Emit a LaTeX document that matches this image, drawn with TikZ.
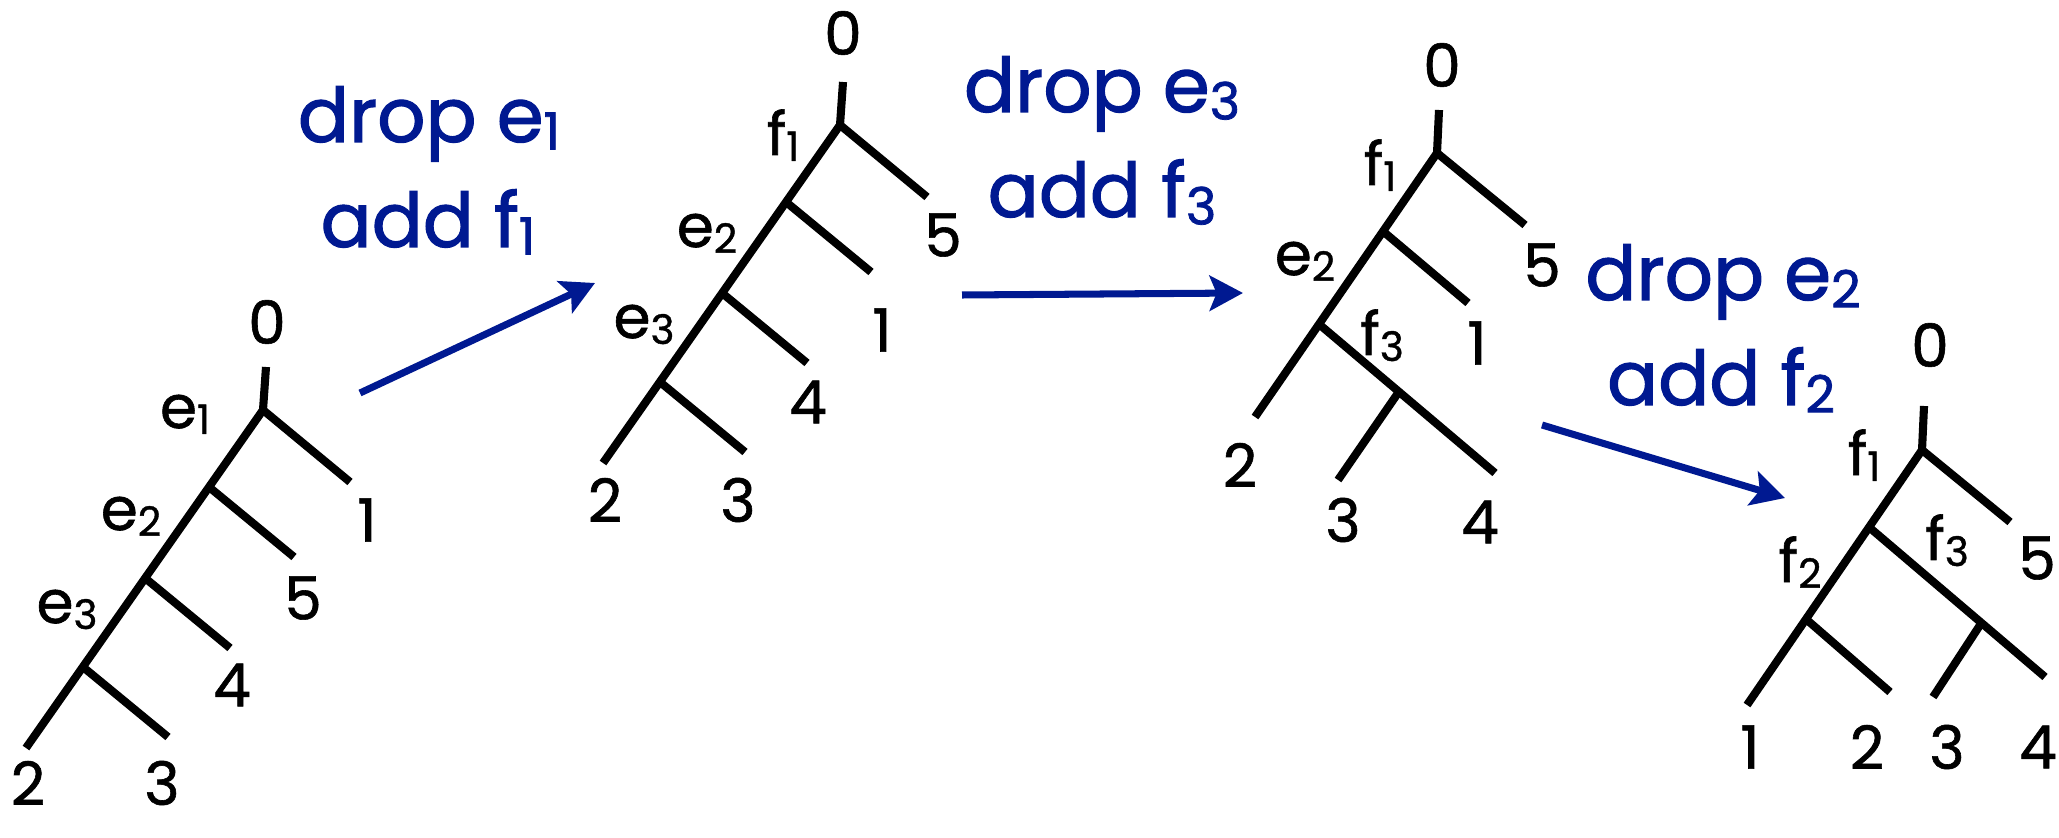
\documentclass[tikz,border=0pt]{standalone}
\usepackage{fontspec}
\setmainfont{Poppins}[FakeBold=1]
\newfontfamily\movefont{Poppins}[FakeBold=1.5]
\usepackage{graphicx}
\usetikzlibrary{arrows.meta}
\definecolor{movecol}{RGB}{0,25,145}
\newcommand{\sbx}[1]{\raisebox{-.1em}{\scalebox{.68}{#1}}}
\tikzset{
  br/.style={line width=2.3pt},
  leaf/.style={inner sep=0pt,font=\fontsize{17}{20}\selectfont},
  elab/.style={inner sep=0pt,anchor=base,font=\fontsize{17}{20}\selectfont},
  mv/.style={inner sep=0pt,anchor=base,text=movecol,font=\movefont\fontsize{21.5}{24}\selectfont},
  mvarrow/.style={draw=movecol,line width=2pt,-{Stealth[length=9.5pt,width=10pt,inset=2pt]}},
}

\begin{document}
\begin{tikzpicture}
\useasboundingbox (0,0) rectangle (20.59,8.37);

%% tree 1
\coordinate (s1) at (2.66,4.70);
\coordinate (r1) at (2.63,4.27);
\coordinate (a1) at (2.09,3.50);
\coordinate (b1) at (1.45,2.59);
\coordinate (c1) at (0.83,1.70);
\coordinate (l1-1) at (3.50,3.55);
\coordinate (l1-5) at (2.94,2.80);
\coordinate (l1-4) at (2.30,1.89);
\coordinate (l1-3) at (1.68,1.00);
\coordinate (l1-2) at (0.26,0.89);

\draw[br] (s1) -- (r1);
\draw[br] (r1) -- (l1-2);
\draw[br] (r1) -- (l1-1);
\draw[br] (a1) -- (l1-5);
\draw[br] (b1) -- (l1-4);
\draw[br] (c1) -- (l1-3);

\node[leaf] (n1-0) at (2.67,5.15) {0};
\node[leaf] (n1-1) at (3.67,3.17) {1};
\node[leaf] (n1-5) at (3.03,2.39) {5};
\node[leaf] (n1-4) at (2.32,1.52) {4};
\node[leaf] (n1-2) at (0.28,0.54) {2};
\node[leaf] (n1-3) at (1.62,0.54) {3};
\node[elab] (e1-1) at (1.85,4.09) {e\sbx{1}};
\node[elab] (e1-2) at (1.31,3.07) {e\sbx{2}};
\node[elab] (e1-3) at (0.67,2.14) {e\sbx{3}};

%% tree 2
\coordinate (s2) at (8.43,7.55);
\coordinate (r2) at (8.40,7.12);
\coordinate (a2) at (7.86,6.35);
\coordinate (b2) at (7.22,5.44);
\coordinate (c2) at (6.60,4.55);
\coordinate (l2-5) at (9.27,6.40);
\coordinate (l2-1) at (8.71,5.65);
\coordinate (l2-4) at (8.07,4.74);
\coordinate (l2-3) at (7.45,3.85);
\coordinate (l2-2) at (6.03,3.74);

\draw[br] (s2) -- (r2);
\draw[br] (r2) -- (l2-2);
\draw[br] (r2) -- (l2-5);
\draw[br] (a2) -- (l2-1);
\draw[br] (b2) -- (l2-4);
\draw[br] (c2) -- (l2-3);

\node[leaf] (n2-0) at (8.43,8.04) {0};
\node[leaf] (n2-5) at (9.43,6.02) {5};
\node[leaf] (n2-1) at (8.82,5.07) {1};
\node[leaf] (n2-4) at (8.08,4.35) {4};
\node[leaf] (n2-2) at (6.05,3.37) {2};
\node[leaf] (n2-3) at (7.38,3.37) {3};
\node[elab] (f2-1) at (7.83,6.82) {f\sbx{1}};
\node[elab] (e2-2) at (7.07,5.90) {e\sbx{2}};
\node[elab] (e2-3) at (6.44,4.99) {e\sbx{3}};

%% tree 3
\coordinate (s3) at (14.39,7.27);
\coordinate (r3) at (14.37,6.84);
\coordinate (a3) at (13.85,6.04);
\coordinate (b3) at (13.20,5.12);
\coordinate (c3) at (13.98,4.44);
\coordinate (l3-5) at (15.25,6.12);
\coordinate (l3-1) at (14.68,5.34);
\coordinate (l3-4) at (14.95,3.64);
\coordinate (l3-3) at (13.38,3.57);
\coordinate (l3-2) at (12.55,4.20);

\draw[br] (s3) -- (r3);
\draw[br] (r3) -- (l3-2);
\draw[br] (r3) -- (l3-5);
\draw[br] (a3) -- (l3-1);
\draw[br] (b3) -- (l3-4);
\draw[br] (c3) -- (l3-3);

\node[leaf] (n3-0) at (14.42,7.72) {0};
\node[leaf] (n3-5) at (15.42,5.72) {5};
\node[leaf] (n3-1) at (14.77,4.94) {1};
\node[leaf] (n3-2) at (12.40,3.72) {2};
\node[leaf] (n3-3) at (13.43,3.17) {3};
\node[leaf] (n3-4) at (14.80,3.15) {4};
\node[elab] (f3-1) at (13.80,6.52) {f\sbx{1}};
\node[elab] (e3-2) at (13.05,5.62) {e\sbx{2}};
\node[elab] (f3-3) at (13.82,4.82) {f\sbx{3}};

%% tree 4
\coordinate (s4) at (19.24,4.31);
\coordinate (r4) at (19.22,3.87);
\coordinate (a4) at (18.70,3.09);
\coordinate (b4) at (18.07,2.17);
\coordinate (c4) at (19.82,2.15);
\coordinate (l4-5) at (20.10,3.15);
\coordinate (l4-4) at (20.45,1.60);
\coordinate (l4-3) at (19.33,1.40);
\coordinate (l4-2) at (18.90,1.45);
\coordinate (l4-1) at (17.47,1.32);

\draw[br] (s4) -- (r4);
\draw[br] (r4) -- (l4-1);
\draw[br] (r4) -- (l4-5);
\draw[br] (a4) -- (l4-4);
\draw[br] (b4) -- (l4-2);
\draw[br] (c4) -- (l4-3);

\node[leaf] (n4-0) at (19.30,4.92) {0};
\node[leaf] (n4-5) at (20.37,2.79) {5};
\node[leaf] (n4-1) at (17.50,0.90) {1};
\node[leaf] (n4-2) at (18.67,0.90) {2};
\node[leaf] (n4-3) at (19.47,0.90) {3};
\node[leaf] (n4-4) at (20.38,0.90) {4};
\node[elab] (f4-1) at (18.64,3.62) {f\sbx{1}};
\node[elab] (f4-2) at (18.00,2.55) {f\sbx{2}};
\node[elab] (f4-3) at (19.47,2.77) {f\sbx{3}};

%% moves
\node[mv] (drop1) at (4.29,6.95) {drop e\sbx{1}};
\node[mv] (add1) at (4.28,5.90) {add f\sbx{1}};
\node[mv] (drop2) at (11.02,7.25) {drop e\sbx{3}};
\node[mv] (add2) at (11.02,6.20) {add f\sbx{3}};
\node[mv] (drop3) at (17.23,5.37) {drop e\sbx{2}};
\node[mv] (add3) at (17.21,4.32) {add f\sbx{2}};

\coordinate (m1s) at (3.60,4.44);
\coordinate (m1e) at (5.95,5.54);
\coordinate (m2s) at (9.62,5.42);
\coordinate (m2e) at (12.43,5.44);
\coordinate (m3s) at (15.42,4.12);
\coordinate (m3e) at (17.85,3.39);
\draw[mvarrow] (m1s) -- (m1e);
\draw[mvarrow] (m2s) -- (m2e);
\draw[mvarrow] (m3s) -- (m3e);
\end{tikzpicture}
\end{document}
